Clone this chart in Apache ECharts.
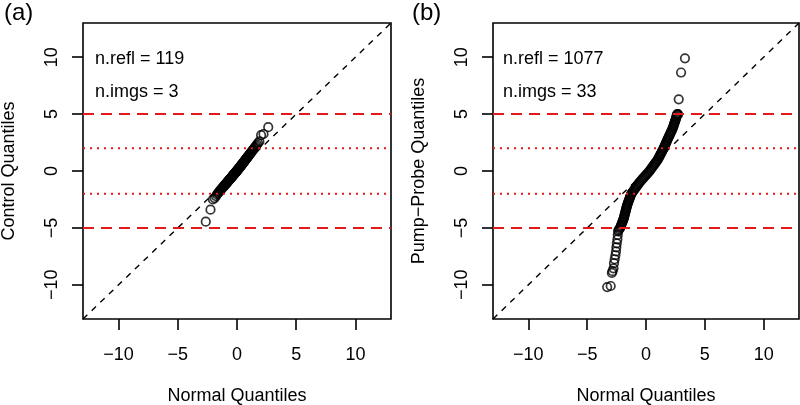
<!DOCTYPE html>
<html>
<head>
<meta charset="utf-8">
<script src="https://cdn.jsdelivr.net/npm/echarts@6/dist/echarts.min.js"></script>
<style>html,body{margin:0;padding:0;background:#fff}#c{width:800px;height:405px}</style>
</head>
<body>
<div id="c"></div>
<script>
// ---- data ----
var tickValues = [-10, -5, 0, 5, 10];
var axisRange = [-13, 13];
var dashedLevels = [5, -5];
var dottedLevels = [2, -2];
var panelTags = ['(a)', '(b)'];
var yTitles = ['Control Quantiles', 'Pump\u2212Probe Quantiles'];
var xTitle = 'Normal Quantiles';
var notesA = ['n.refl = 119', 'n.imgs = 3'];
var notesB = ['n.refl = 1077', 'n.imgs = 33'];

// panel (a): theoretical quantile (x) and sample quantile (y)
var controlX = [-2.636,-2.238,-2.034,-1.889,-1.776,-1.682,-1.602,-1.530,-1.465,-1.406,-1.351,-1.301,-1.253,-1.209,-1.166,-1.126,-1.087,-1.049,-1.013,-0.979,
 -0.945,-0.913,-0.881,-0.851,-0.821,-0.792,-0.763,-0.735,-0.708,-0.681,-0.655,-0.629,-0.604,-0.579,-0.554,-0.529,-0.505,-0.481,-0.458,-0.434,
 -0.411,-0.388,-0.366,-0.343,-0.321,-0.299,-0.277,-0.255,-0.233,-0.212,-0.190,-0.169,-0.148,-0.127,-0.105,-0.084,-0.063,-0.042,-0.021,0,
 0.021,0.042,0.063,0.084,0.105,0.127,0.148,0.169,0.190,0.212,0.233,0.255,0.277,0.299,0.321,0.343,0.366,0.388,0.411,0.434,
 0.458,0.481,0.505,0.529,0.554,0.579,0.604,0.629,0.655,0.681,0.708,0.735,0.763,0.792,0.821,0.851,0.881,0.913,0.945,0.979,
 1.013,1.049,1.087,1.126,1.166,1.209,1.253,1.301,1.351,1.406,1.465,1.530,1.602,1.682,1.776,1.889,2.034,2.238,2.636];
var controlY = [-4.45,-3.4,-2.5,-2.38,-2.2,-2.05,-1.95,-1.85,-1.77,-1.7,-1.63,-1.57,-1.5,-1.45,-1.4,-1.35,-1.3,-1.26,-1.22,-1.18,
 -1.14,-1.1,-1.06,-1.02,-0.98,-0.95,-0.91,-0.88,-0.85,-0.81,-0.78,-0.75,-0.72,-0.69,-0.66,-0.63,-0.6,-0.57,-0.54,-0.51,
 -0.48,-0.45,-0.43,-0.4,-0.37,-0.34,-0.32,-0.29,-0.26,-0.24,-0.21,-0.18,-0.16,-0.13,-0.1,-0.08,-0.05,-0.02,0.0,0.03,
 0.06,0.08,0.11,0.14,0.16,0.19,0.22,0.25,0.27,0.3,0.33,0.36,0.39,0.42,0.45,0.48,0.51,0.54,0.57,0.6,
 0.63,0.66,0.7,0.73,0.76,0.8,0.83,0.87,0.9,0.94,0.98,1.01,1.05,1.09,1.13,1.17,1.21,1.25,1.3,1.34,
 1.39,1.44,1.49,1.54,1.6,1.66,1.72,1.79,1.86,1.94,2.02,2.1,2.2,2.32,2.45,2.6,3.15,3.25,3.85];

// panel (b): points (x = normal quantile, y = sample quantile)
var pumpX = [-3.3,-3.0,-2.9,-2.84,-2.76,-2.72,-2.66,-2.6,-2.55,-2.52,-2.48,-2.43,-2.4,-2.37,
 -2.33,-2.27,-2.20,-2.16,-2.13,-2.09,-2.05,-2.01,-1.98,-1.94,-1.90,-1.88,-1.85,-1.83,-1.80,-1.78,-1.75,-1.73,-1.70,-1.68,-1.65,-1.63,-1.60,
 -1.57,-1.53,-1.50,-1.46,-1.43,-1.39,-1.36,-1.32,-1.29,-1.25,
 -1.18,-1.11,-1.04,-0.97,-0.90,-0.83,-0.76,-0.69,-0.62,-0.55,
 -0.47,-0.38,-0.30,-0.21,-0.13,-0.04,0.05,0.13,0.22,0.30,
 0.37,0.44,0.51,0.58,0.65,0.72,0.79,0.86,0.93,1.00,
 1.05,1.10,1.15,1.20,1.25,1.30,1.35,1.40,1.45,1.50,
 1.54,1.59,1.63,1.67,1.71,1.76,1.80,1.84,
 1.89,1.93,1.98,2.02,2.07,2.11,2.16,2.20,2.25,
 2.28,2.32,2.35,2.38,2.41,2.45,2.48,
 2.51,2.54,2.57,2.59,2.62,2.65,2.70,2.72,
 2.78,2.98,3.31];
var pumpY = [-10.2,-10.1,-8.95,-8.8,-8.55,-8.1,-7.75,-7.4,-7.07,-6.7,-6.35,-6.0,-5.62,-5.3,
 -5.2,-5.1,-5.0,-4.9,-4.8,-4.7,-4.6,-4.5,-4.4,-4.3,-4.2,-4.1,-4.0,-3.9,-3.8,-3.7,-3.6,-3.5,-3.4,-3.3,-3.2,-3.1,-3.0,
 -2.9,-2.8,-2.7,-2.6,-2.5,-2.4,-2.3,-2.2,-2.1,-2.0,
 -1.9,-1.8,-1.7,-1.6,-1.5,-1.4,-1.3,-1.2,-1.1,-1.0,
 -0.9,-0.8,-0.7,-0.6,-0.5,-0.4,-0.3,-0.2,-0.1,0.0,
 0.1,0.2,0.3,0.4,0.5,0.6,0.7,0.8,0.9,1.0,
 1.1,1.2,1.3,1.4,1.5,1.6,1.7,1.8,1.9,2.0,
 2.1,2.2,2.3,2.4,2.5,2.6,2.7,2.8,
 2.9,3.0,3.1,3.2,3.3,3.4,3.5,3.6,3.7,
 3.8,3.9,4.0,4.1,4.2,4.3,4.4,
 4.5,4.6,4.7,4.8,4.9,5.0,4.95,5.0,
 6.3,8.65,9.9];

// ---- build ----
function zip(a, b) { return a.map(function (v, i) { return [v, b[i]]; }); }
var FONT = 'Liberation Sans, Arial, Helvetica, sans-serif';
var RED = '#e3191c';
function minusFmt(v) { return String(v).replace('-', '\u2212'); }

var grids = [
  { left: 83, top: 23, width: 308, height: 296 },
  { left: 493, top: 23, width: 306, height: 296 }
];
grids.forEach(function (g) {
  g.show = true; g.borderColor = '#000'; g.borderWidth = 1.6; g.backgroundColor = 'transparent';
  g.containLabel = false; g.outerBoundsMode = 'none';
});

var xAxes = [], yAxes = [], series = [];
[0, 1].forEach(function (i) {
  xAxes.push({
    gridIndex: i, type: 'value', min: axisRange[0], max: axisRange[1],
    name: xTitle, nameLocation: 'middle', nameGap: 68,
    nameTextStyle: { fontFamily: FONT, fontSize: 18, color: '#000' },
    axisLine: { show: false, onZero: false }, splitLine: { show: false },
    axisTick: { show: true, inside: false, length: 11, customValues: tickValues, lineStyle: { color: '#000', width: 1.6 } },
    axisLabel: { show: true, customValues: tickValues, margin: 27, fontFamily: FONT, fontSize: 18, color: '#000', formatter: minusFmt }
  });
  yAxes.push({
    gridIndex: i, type: 'value', min: axisRange[0], max: axisRange[1],
    name: yTitles[i], nameLocation: 'middle', nameGap: 65, nameRotate: 90,
    nameTextStyle: { fontFamily: FONT, fontSize: 18, color: '#000' },
    axisLine: { show: false, onZero: false }, splitLine: { show: false },
    axisTick: { show: true, inside: false, length: 11, customValues: tickValues, lineStyle: { color: '#000', width: 1.6 } },
    axisLabel: { show: true, customValues: tickValues, rotate: 90, margin: 22, fontFamily: FONT, fontSize: 18, color: '#000', formatter: minusFmt }
  });
  var pts = i === 0 ? zip(controlX, controlY) : zip(pumpX, pumpY);
  series.push({
    type: 'scatter', xAxisIndex: i, yAxisIndex: i, data: pts, z: 2,
    symbol: 'circle', symbolSize: 8.5,
    itemStyle: { color: 'rgba(0,0,0,0)', borderColor: '#000', borderWidth: 1.7 },
    emphasis: { disabled: true }, silent: true
  });
  series.push({
    type: 'line', xAxisIndex: i, yAxisIndex: i, z: 3, silent: true, symbol: 'none',
    data: [[axisRange[0], axisRange[0]], [axisRange[1], axisRange[1]]],
    lineStyle: { color: '#000', width: 1.4, type: [6, 6] }
  });
  dashedLevels.forEach(function (lv) {
    series.push({
      type: 'line', xAxisIndex: i, yAxisIndex: i, z: 4, silent: true, symbol: 'none',
      data: [[axisRange[0], lv], [axisRange[1], lv]],
      lineStyle: { color: RED, width: 2, type: [11, 7] }
    });
  });
  dottedLevels.forEach(function (lv) {
    series.push({
      type: 'line', xAxisIndex: i, yAxisIndex: i, z: 4, silent: true, symbol: 'none',
      data: [[axisRange[0], lv], [axisRange[1], lv]],
      lineStyle: { color: RED, width: 2, type: [2, 5] }
    });
  });
});

var graphic = [
  { type: 'text', left: 4, top: 1, style: { text: panelTags[0], font: '24px ' + FONT, fill: '#000' } },
  { type: 'text', left: 412, top: 1, style: { text: panelTags[1], font: '24px ' + FONT, fill: '#000' } },
  { type: 'text', left: 95, top: 50, style: { text: notesA[0], font: '18px ' + FONT, fill: '#000' } },
  { type: 'text', left: 95, top: 83, style: { text: notesA[1], font: '18px ' + FONT, fill: '#000' } },
  { type: 'text', left: 503, top: 50, style: { text: notesB[0], font: '18px ' + FONT, fill: '#000' } },
  { type: 'text', left: 503, top: 83, style: { text: notesB[1], font: '18px ' + FONT, fill: '#000' } }
];

var chart = echarts.init(document.getElementById('c'), null, { renderer: 'canvas' });
chart.setOption({
  animation: false,
  backgroundColor: '#fff',
  grid: grids, xAxis: xAxes, yAxis: yAxes, series: series, graphic: graphic
});
</script>
</body>
</html>
